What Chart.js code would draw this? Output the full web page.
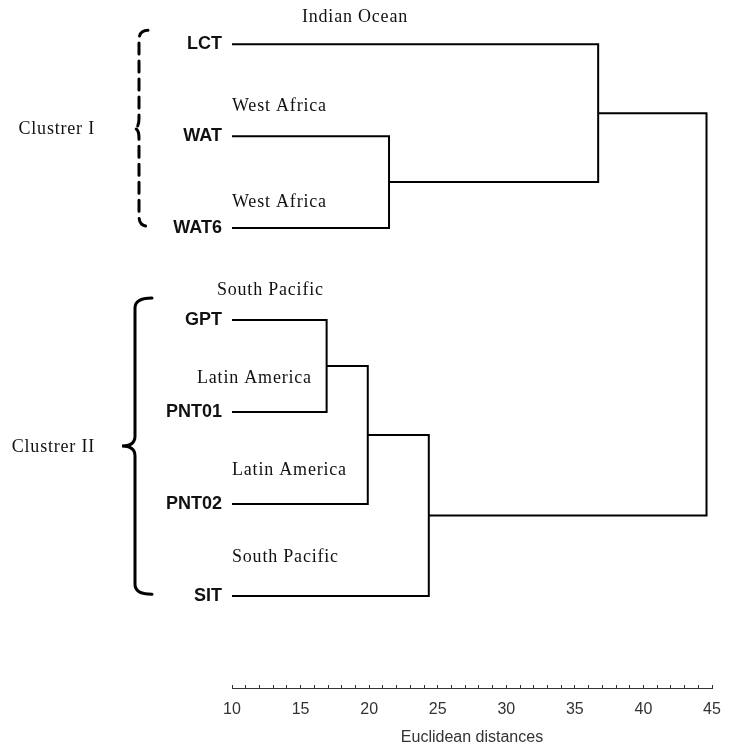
<!DOCTYPE html>
<html>
<head>
<meta charset="utf-8">
<title>Dendrogram - Euclidean distances</title>
<script src="https://cdn.jsdelivr.net/npm/chart.js@4.4.1/dist/chart.umd.min.js"></script>
<style>
  html, body { margin: 0; padding: 0; background: #fff; }
  #wrap { width: 756px; height: 747px; }
</style>
</head>
<body>
<div id="wrap"><canvas id="chart"></canvas></div>
<script>
// leaves, top to bottom
const leaves = ['LCT', 'WAT', 'WAT6', 'GPT', 'PNT01', 'PNT02', 'SIT'];
const origins = ['Indian Ocean', 'West Africa', 'West Africa', 'South Pacific', 'Latin America', 'Latin America', 'South Pacific'];

// linkage: left node, right node, distance (node >= leaves.length is an earlier merge)
const mergeLeft = [1, 0, 3, 9, 10, 8];
const mergeRight = [2, 7, 4, 5, 6, 11];
const mergeDist = [21.45, 36.7, 16.9, 19.9, 24.35, 44.6];

const xTicks = [10, 15, 20, 25, 30, 35, 40, 45];

const clusterNames = ['Clustrer I', 'Clustrer II'];
const clusterFirst = [0, 3];
const clusterLast = [2, 6];

// placement of the text notes (data units) and braces (px), kept apart from the data
const originAt = [[15.1, -0.29], [10, 0.68], [10, 1.72], [8.9, 2.68], [7.45, 3.63], [10, 4.63], [10, 5.58]];
const braceSpan = [[-0.15, -0.02], [-0.24, -0.02]];
const braceX = [[148, 139, 134], [152, 135, 122]];
const braceDash = [[11, 7], []];

// build the U shaped links through the linkage
const nodeX = leaves.map(() => xTicks[0]);
const nodeY = leaves.map((_, i) => i);
const links = [];
mergeDist.forEach((d, k) => {
  const a = mergeLeft[k], b = mergeRight[k];
  links.push([
    { x: nodeX[a], y: nodeY[a] },
    { x: d, y: nodeY[a] },
    { x: d, y: nodeY[b] },
    { x: nodeX[b], y: nodeY[b] }
  ]);
  nodeX.push(d);
  nodeY.push((nodeY[a] + nodeY[b]) / 2);
});

const serif = '"Liberation Serif", "Times New Roman", serif';

const annotate = {
  id: 'annotate',
  afterDatasetsDraw(chart) {
    const { ctx, scales: { x, y } } = chart;
    ctx.save();
    ctx.fillStyle = '#111';
    ctx.font = '18px ' + serif;
    ctx.letterSpacing = '0.8px';
    ctx.textBaseline = 'middle';
    ctx.textAlign = 'left';
    origins.forEach((t, i) => {
      ctx.fillText(t, x.getPixelForValue(originAt[i][0]), y.getPixelForValue(originAt[i][1]));
    });

    ctx.strokeStyle = '#000';
    ctx.lineWidth = 3;
    ctx.lineCap = 'round';
    clusterNames.forEach((name, c) => {
      const top = y.getPixelForValue(clusterFirst[c] + braceSpan[c][0]);
      const bottom = y.getPixelForValue(clusterLast[c] + braceSpan[c][1]);
      const mid = (top + bottom) / 2;
      const [tipX, spineX, pointX] = braceX[c];
      const r = 10;
      ctx.setLineDash(braceDash[c]);
      ctx.beginPath();
      ctx.moveTo(tipX, top);
      ctx.quadraticCurveTo(spineX, top, spineX, top + r);
      ctx.lineTo(spineX, mid - r);
      ctx.quadraticCurveTo(spineX, mid, pointX, mid);
      ctx.quadraticCurveTo(spineX, mid, spineX, mid + r);
      ctx.lineTo(spineX, bottom - r);
      ctx.quadraticCurveTo(spineX, bottom, tipX, bottom);
      ctx.stroke();

      ctx.textAlign = 'right';
      ctx.fillText(name, 95, mid + 1);
    });
    ctx.restore();
  }
};

new Chart(document.getElementById('chart'), {
  type: 'scatter',
  data: {
    datasets: links.map(pts => ({
      data: pts,
      showLine: true,
      borderColor: '#000',
      borderWidth: 2,
      pointRadius: 0,
      pointHoverRadius: 0,
      tension: 0,
      fill: false,
      clip: false
    }))
  },
  options: {
    responsive: true,
    maintainAspectRatio: false,
    animation: false,
    layout: { padding: { top: 0, right: 44, bottom: 0, left: 0 } },
    plugins: { legend: { display: false }, tooltip: { enabled: false } },
    scales: {
      x: {
        type: 'linear',
        position: 'bottom',
        min: xTicks[0],
        max: xTicks[xTicks.length - 1],
        afterBuildTicks: s => {
          const t = [];
          for (let v = s.min; v <= s.max; v += 1) t.push({ value: v });
          s.ticks = t;
        },
        ticks: {
          autoSkip: false,
          maxRotation: 0,
          padding: 15,
          color: '#333',
          font: { family: 'Liberation Sans', size: 16 },
          callback: v => xTicks.includes(v) ? String(v) : ''
        },
        grid: { display: true, drawOnChartArea: false, drawTicks: true, tickLength: -3, color: '#333', lineWidth: 1 },
        border: { display: true, color: '#333', width: 1 },
        title: {
          display: true,
          text: 'Euclidean distances',
          color: '#333',
          font: { family: 'Liberation Sans', size: 16 },
          padding: { top: 0, bottom: 0 }
        },
        afterFit: s => { s.height = 59; s.paddingLeft = 0; s.paddingRight = 0; }
      },
      y: {
        type: 'linear',
        reverse: true,
        min: -0.48,
        max: 7,
        afterBuildTicks: s => { s.ticks = leaves.map((_, i) => ({ value: i })); },
        ticks: {
          autoSkip: false,
          padding: 10,
          color: '#111',
          font: { family: 'Liberation Sans', size: 18, weight: 'bold' },
          callback: v => leaves[v]
        },
        grid: { display: false, drawTicks: false },
        border: { display: false },
        afterFit: s => { s.width = 232; s.paddingTop = 0; s.paddingBottom = 0; }
      }
    }
  },
  plugins: [annotate]
});
</script>
</body>
</html>
